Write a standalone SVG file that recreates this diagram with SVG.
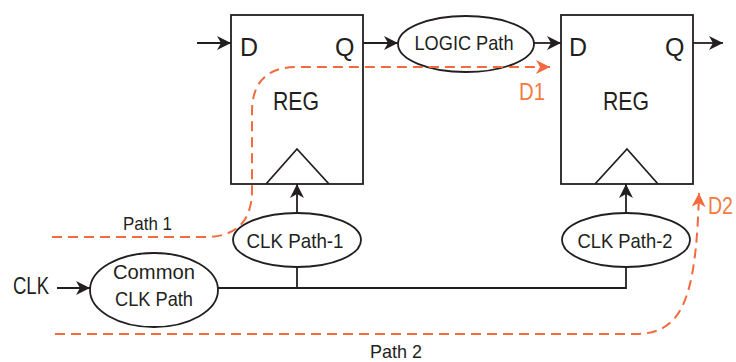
<svg xmlns="http://www.w3.org/2000/svg" width="736" height="362" viewBox="0 0 736 362">
<style>
.box{fill:#fff;stroke:#231f20;stroke-width:1.8}
.ell{fill:#fff;stroke:#231f20;stroke-width:1.8}
.w{fill:none;stroke:#231f20;stroke-width:1.8}
.t{font-family:"Liberation Sans",Arial,sans-serif;fill:#231f20}
.o{fill:none;stroke:#f26a3d;stroke-width:2;stroke-dasharray:10,6}
.ot{font-family:"Liberation Sans",Arial,sans-serif;fill:#f47b3e}
</style>
<defs>
<marker id="ah" markerUnits="userSpaceOnUse" markerWidth="16" markerHeight="14" refX="14" refY="7" orient="auto">
<path d="M0,0 L14,7 L0,14 L4,7 Z" fill="#231f20"/>
</marker>
<marker id="oh" markerUnits="userSpaceOnUse" markerWidth="16" markerHeight="14" refX="14" refY="7" orient="auto">
<path d="M0,0 L14,7 L0,14 L4,7 Z" fill="#f26a3d"/>
</marker>
</defs>

<g id="reg1">
<rect class="box" x="231" y="15" width="132" height="169"/>
<polyline class="w" points="266,184 297,149 329,184"/>
<text class="t" x="240" y="56" font-size="25">D</text>
<text class="t" x="335" y="56" font-size="25">Q</text>
<text class="t" x="296" y="110" font-size="25" text-anchor="middle" textLength="46" lengthAdjust="spacingAndGlyphs">REG</text>
</g>

<g id="reg2">
<rect class="box" x="561" y="15" width="132" height="169"/>
<polyline class="w" points="595,184 627,149 658,184"/>
<text class="t" x="569" y="56" font-size="25">D</text>
<text class="t" x="665" y="56" font-size="25">Q</text>
<text class="t" x="626" y="110" font-size="25" text-anchor="middle" textLength="46" lengthAdjust="spacingAndGlyphs">REG</text>
</g>

<g id="logic">
<ellipse class="ell" cx="466" cy="44" rx="68" ry="28"/>
<text class="t" x="464" y="50" font-size="21" text-anchor="middle" textLength="99" lengthAdjust="spacingAndGlyphs">LOGIC Path</text>
</g>

<g id="clk1">
<ellipse class="ell" cx="297" cy="240" rx="64" ry="27"/>
<text class="t" x="295" y="248" font-size="21" text-anchor="middle" textLength="97" lengthAdjust="spacingAndGlyphs">CLK Path-1</text>
</g>

<g id="clk2">
<ellipse class="ell" cx="626" cy="240" rx="64" ry="27"/>
<text class="t" x="625" y="248" font-size="21" text-anchor="middle" textLength="95" lengthAdjust="spacingAndGlyphs">CLK Path-2</text>
</g>

<g id="common">
<ellipse class="ell" cx="154" cy="290" rx="64" ry="37"/>
<text class="t" x="154" y="279" font-size="21" text-anchor="middle" textLength="82" lengthAdjust="spacingAndGlyphs">Common</text>
<text class="t" x="154" y="306" font-size="21" text-anchor="middle" textLength="78" lengthAdjust="spacingAndGlyphs">CLK Path</text>
</g>

<g id="clk-label">
<text class="t" x="13" y="294" font-size="23" textLength="36" lengthAdjust="spacingAndGlyphs">CLK</text>
</g>

<g id="connectors">
<line class="w" x1="197" y1="43" x2="231" y2="43" marker-end="url(#ah)"/>
<line class="w" x1="363" y1="43" x2="398" y2="43" marker-end="url(#ah)"/>
<line class="w" x1="534" y1="43" x2="561" y2="43" marker-end="url(#ah)"/>
<line class="w" x1="693" y1="43" x2="723" y2="43" marker-end="url(#ah)"/>
<line class="w" x1="57" y1="288" x2="90" y2="288" marker-end="url(#ah)"/>
<polyline class="w" points="218,288 626,288 626,267"/>
<line class="w" x1="297" y1="288" x2="297" y2="267"/>
<line class="w" x1="297" y1="213" x2="297" y2="184" marker-end="url(#ah)"/>
<line class="w" x1="626" y1="213" x2="626" y2="184" marker-end="url(#ah)"/>
</g>

<g id="paths">
<path class="o" d="M52,237 H205 Q252,237 252,190 V112 Q252,67 297,67 H550" marker-end="url(#oh)"/>
<path class="o" d="M55,334 H635 C682,334 696,300 699,193" marker-end="url(#oh)"/>
<text class="ot" x="519" y="100" font-size="23" textLength="26" lengthAdjust="spacingAndGlyphs">D1</text>
<text class="ot" x="708" y="214" font-size="23" textLength="25" lengthAdjust="spacingAndGlyphs">D2</text>
<text class="t" x="123" y="230" font-size="19" textLength="49" lengthAdjust="spacingAndGlyphs">Path 1</text>
<text class="t" x="370" y="358" font-size="19" textLength="52" lengthAdjust="spacingAndGlyphs">Path 2</text>
</g>
</svg>
